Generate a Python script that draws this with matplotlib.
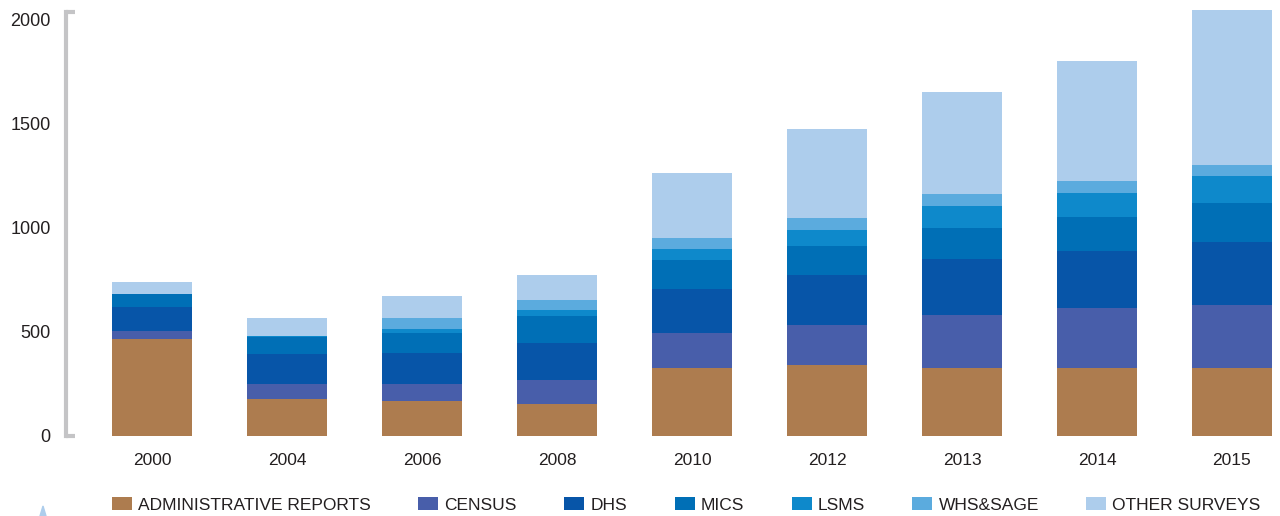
import numpy as np
import matplotlib
matplotlib.use("Agg")
import matplotlib.pyplot as plt
from matplotlib.patches import Polygon

plt.rcParams['font.family'] = ['Liberation Sans', 'DejaVu Sans']

years = ['2000', '2004', '2006', '2008', '2010', '2012', '2013', '2014', '2015']

admin   = [464, 180, 166, 156, 325, 339, 329, 329, 325]
census  = [43, 72, 86, 111, 168, 197, 255, 284, 307]
dhs     = [111, 140, 149, 178, 216, 236, 269, 274, 303]
mics    = [64, 86, 92, 130, 135, 139, 149, 168, 183]
lsms    = [3, 5, 19, 33, 53, 77, 106, 111, 134]
whs     = [0, 0, 53, 48, 53, 58, 53, 58, 53]
other   = [53, 82, 110, 120, 312, 432, 495, 581, 741]

labels = ['ADMINISTRATIVE REPORTS', 'CENSUS', 'DHS', 'MICS', 'LSMS', 'WHS&SAGE', 'OTHER SURVEYS']
colors = ['#ad7c4f', '#485eaa', '#0755a8', '#006fb6', '#0e89cb', '#5babde', '#adcdec']
series = [admin, census, dhs, mics, lsms, whs, other]

text_col = '#231f20'
spine_col = '#c4c4c6'

fig = plt.figure(figsize=(12.8, 5.16), dpi=100)
ax = fig.add_axes([66 / 1280, 80 / 516, 1 - 66 / 1280, 436 / 516])

x = np.arange(len(years))
bottom = np.zeros(len(years))
for vals, lab, col in zip(series, labels, colors):
    ax.bar(x, vals, width=0.593, bottom=bottom, color=col, label=lab, linewidth=0)
    bottom += np.array(vals)

ax.set_xlim(-0.637, 8.356)
ax.set_ylim(0, 2096)
ax.set_xticks(x)
ax.set_xticklabels(years)
ax.set_yticks([0, 500, 1000, 1500, 2000])

for s in ['top', 'right', 'bottom']:
    ax.spines[s].set_visible(False)
ax.spines['left'].set_color(spine_col)
ax.spines['left'].set_linewidth(3)
ax.spines['left'].set_bounds(0, 2038)

# little caps on the bracket
tr = ax.get_yaxis_transform()
for yv in [0, 2038]:
    ax.plot([0, 0.0075], [yv, yv], color=spine_col, lw=3, transform=tr,
            clip_on=False, solid_capstyle='butt')

ax.tick_params(axis='y', length=0, pad=11, labelsize=13, labelcolor=text_col)
ax.tick_params(axis='x', length=0, pad=12, labelsize=12.5, labelcolor=text_col)

leg = fig.legend(loc='center left', bbox_to_anchor=(112 / 1280, 1 - 505 / 516),
                 ncol=7, frameon=False, fontsize=12.5, handlelength=1.15, handleheight=0.8,
                 handletextpad=0.35, columnspacing=2.74, borderaxespad=0, borderpad=0)
for t in leg.get_texts():
    t.set_color(text_col)

# small marker at bottom left
fig.patches.append(Polygon([[40 / 1280, 0], [46 / 1280, 0], [43 / 1280, 10 / 516]],
                           closed=True, transform=fig.transFigure, color='#adcdec'))

fig.savefig('out.png', dpi=100)
